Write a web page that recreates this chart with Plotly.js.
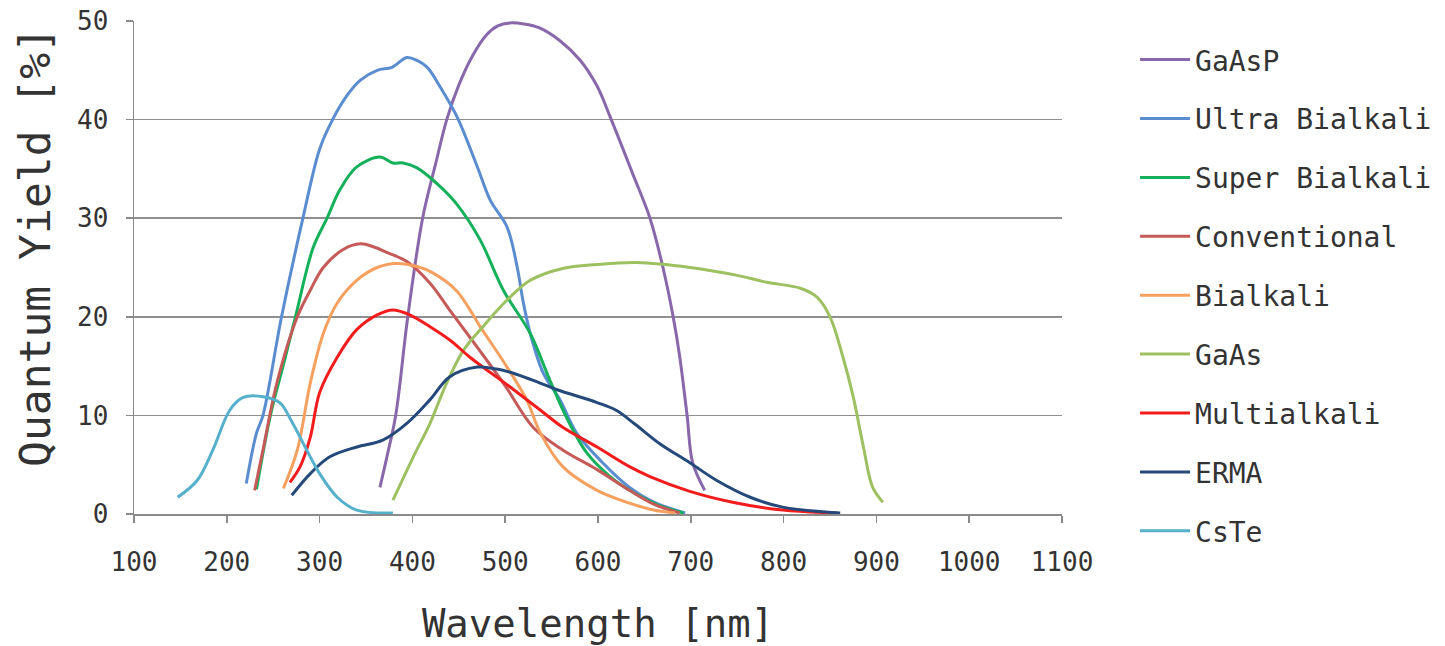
<!DOCTYPE html>
<html>
<head>
<meta charset="utf-8">
<script src="https://cdn.plot.ly/plotly-3.0.1.min.js"></script>
<style>html,body{margin:0;padding:0;background:#fff;}#chart{width:1445px;height:646px;}</style>
</head>
<body>
<div id="chart"></div>
<script>
const seriesNames = ["GaAsP","Ultra Bialkali","Super Bialkali","Conventional","Bialkali","GaAs","Multialkali","ERMA","CsTe"];
const seriesColors = ["#8868AA","#5A8CD0","#14B05A","#C55A58","#F6A060","#9DC160","#F21C1C","#24497A","#55B0CC"];

const gaaspX = [365,373,382,395,411,425,437,450,465,480,492,505,520,537,559,581,599,613,637,656,670,681,688,696,702,715];
const gaaspY = [2.7,6,10,20,30,35.5,40,43.5,46.5,48.6,49.5,49.8,49.7,49.3,48,46,43.4,40.3,34.6,30,25,20,16,10,5.2,2.4];

const ultraX = [221,232,239,259,282,300,314,330,344,362,378,394,405,416,430,448,470,484,502,513,519,527,541,559,577,605,634,660,694];
const ultraY = [3.1,8.2,10,20,30,37,40,42.5,44,45,45.3,46.3,46,45.3,43.3,40.3,35.2,31.8,29.1,25,21.7,18.3,14.3,11.6,8.2,5.2,2.7,1.2,0.1];

const superX = [232,247,262,274,293,308,322,340,365,379,390,405,430,448,473,498,527,548,566,588,613,634,665,692];
const superY = [2.5,10,15.5,20,27,30,32.9,35.2,36.2,35.6,35.6,35.1,33.2,31.4,27.8,22.7,18.3,13.6,9.8,6.2,3.8,2.4,0.9,0.1];

const convX = [230,239,254,276,290,304,325,344,358,373,394,419,440,470,500,530,562,599,634,660,688];
const convY = [2.4,6.5,13.3,20,22.7,25,26.8,27.4,27.1,26.5,25.6,23.4,20.7,16.9,13,8.8,6.5,4.5,2.4,1,0.1];

const bialkX = [261,276,290,304,319,340,362,383,405,421,448,473,502,523,538,562,599,634,660,683];
const bialkY = [2.6,6.5,13.3,18.3,21.4,23.7,25,25.4,25.1,24.5,22.6,19,14.9,11.6,8.2,4.8,2.4,1.1,0.4,0.1];

const gaasX = [379,401,419,437,455,476,502,527,562,599,642,699,750,782,818,836,850,864,875,886,896,907];
const gaasY = [1.4,5.8,9.2,13.3,16.6,19,21.7,23.7,24.9,25.3,25.5,25,24.2,23.5,22.9,22,20,15.9,11.9,6.8,2.7,1.2];

const multiX = [268,279,290,300,319,340,362,379,397,419,441,462,505,537,562,599,634,656,699,745,799,858];
const multiY = [3.2,4.8,7.8,12.3,15.9,18.7,20.2,20.7,20.2,19,17.6,15.9,12.9,10.6,8.8,6.8,4.8,3.8,2.3,1.2,0.4,0.1];

const ermaX = [270,290,311,340,368,394,419,440,470,491,508,537,556,599,620,640,667,699,728,764,799,861];
const ermaY = [1.9,4.1,5.8,6.8,7.5,9.2,11.6,13.9,14.9,14.7,14.3,13.3,12.6,11.3,10.5,9.1,7.1,5.2,3.4,1.7,0.7,0.1];

const csteX = [147,168,185,203,217,239,257,271,286,300,319,340,379];
const csteY = [1.7,3.4,6.5,10.5,11.8,11.9,11.3,9.2,6.5,4.1,1.7,0.4,0.1];

const xTicks = [100,200,300,400,500,600,700,800,900,1000,1100];
const yTicks = [0,10,20,30,40,50];

const xs = [gaaspX, ultraX, superX, convX, bialkX, gaasX, multiX, ermaX, csteX];
const ys = [gaaspY, ultraY, superY, convY, bialkY, gaasY, multiY, ermaY, csteY];

const traces = seriesNames.map((n, i) => ({
  x: xs[i], y: ys[i], name: n, type: 'scatter', mode: 'lines',
  legendgroup: 'g' + i,
  line: {color: seriesColors[i], width: 3, shape: 'spline', smoothing: 1.0}
}));

const mono = "DejaVu Sans Mono, monospace";
const layout = {
  width: 1445, height: 646,
  margin: {l: 134, r: 383, t: 21, b: 132},
  paper_bgcolor: '#fff', plot_bgcolor: '#fff',
  font: {family: mono, color: '#333', size: 26},
  showlegend: true,
  legend: {
    xref: 'container', yref: 'container',
    x: 0.7855, xanchor: 'left', y: 0.946, yanchor: 'top',
    traceorder: 'grouped', tracegroupgap: 19.5,
    itemwidth: 50, maxheight: 640,
    font: {family: mono, size: 28, color: '#333'},
    bgcolor: 'rgba(0,0,0,0)'
  },
  xaxis: {
    range: [100, 1100], tickvals: xTicks, ticktext: xTicks.map(String),
    showgrid: false, zeroline: false,
    showline: true, linecolor: '#8a8a8a', linewidth: 1.5,
    ticks: 'outside', ticklen: 7, tickcolor: '#8a8a8a', tickwidth: 1.5,
    ticklabelstandoff: 17,
    tickfont: {family: mono, size: 26, color: '#333'},
    title: {text: 'Wavelength [nm]', font: {family: mono, size: 39, color: '#333'}, standoff: 43}
  },
  yaxis: {
    range: [0, 50], tickvals: yTicks, ticktext: yTicks.map(String),
    showgrid: true, gridcolor: '#8f8f8f', gridwidth: 1.5,
    zeroline: false,
    showline: true, linecolor: '#8a8a8a', linewidth: 1.5,
    ticks: 'outside', ticklen: 7, tickcolor: '#8a8a8a', tickwidth: 1.5,
    ticklabelstandoff: 12,
    tickfont: {family: mono, size: 26, color: '#333'}
  },
  annotations: [{
    text: 'Quantum Yield [%]', xref: 'paper', yref: 'paper',
    x: 0, y: 0.5416, xanchor: 'center', yanchor: 'middle',
    xshift: -99, textangle: -90, showarrow: false,
    font: {family: mono, size: 43, color: '#333'}
  }]
};

Plotly.newPlot('chart', traces, layout, {displayModeBar: false, staticPlot: true});
</script>
</body>
</html>
